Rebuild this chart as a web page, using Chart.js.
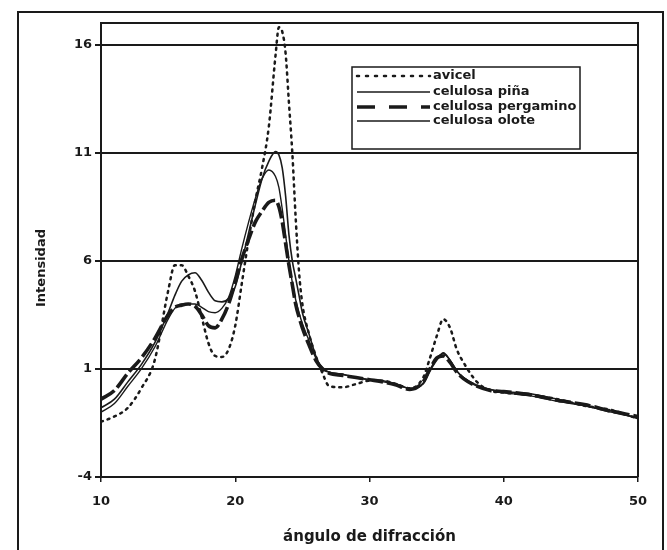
<!DOCTYPE html>
<html>
<head>
<meta charset="utf-8">
<script src="https://cdn.jsdelivr.net/npm/chart.js@4"></script>
<style>
html,body{margin:0;padding:0;background:#fff}
#wrap{width:667px;height:550px}
</style>
</head>
<body>
<div id="wrap"><canvas id="c" width="667" height="550"></canvas></div>
<script>
// ---- data ----
const angles    = [10,11,12,13,14,15,15.5,16,16.5,17,17.5,18,18.5,19,19.5,20,20.5,21,21.5,22,22.5,23,23.25,23.5,23.75,24,24.25,24.5,24.75,25,25.5,26,26.5,27,28,29,30,31,32,33,34,34.5,35,35.5,36,36.5,37,38,39,40,42,44,46,48,50];
const avicel    = [-1.45,-1.2,-0.8,0.1,1.4,4.6,5.8,5.8,5.3,4.6,3.4,2.2,1.6,1.55,1.9,3.0,5.0,7.0,8.8,10.3,12.2,15.5,16.8,16.6,15.6,13.3,11.0,8.0,5.5,4.0,2.6,1.6,0.8,0.2,0.15,0.3,0.45,0.45,0.3,0.1,0.6,1.5,2.5,3.3,2.9,1.9,1.3,0.4,0.0,-0.1,-0.2,-0.4,-0.7,-0.9,-1.3];
const pina      = [-0.8,-0.4,0.4,1.2,2.2,3.6,4.4,5.05,5.35,5.45,5.1,4.55,4.15,4.1,4.25,4.8,6.0,7.3,8.6,9.8,10.6,11.05,10.9,10.3,9.0,7.2,6.0,5.2,4.4,3.6,2.6,1.6,1.0,0.85,0.75,0.6,0.5,0.45,0.3,0.1,0.3,0.9,1.4,1.75,1.4,0.9,0.6,0.25,0.05,-0.05,-0.15,-0.4,-0.7,-0.95,-1.3];
const pergamino = [-0.4,0.0,0.8,1.5,2.4,3.5,3.85,3.95,4.0,3.9,3.5,3.0,2.9,3.3,4.0,5.0,6.1,7.0,7.8,8.3,8.7,8.8,8.5,7.8,6.8,5.8,4.9,4.0,3.4,2.9,2.1,1.4,1.0,0.8,0.7,0.6,0.5,0.4,0.25,0.05,0.4,1.0,1.5,1.6,1.3,0.85,0.55,0.2,0.0,-0.05,-0.2,-0.45,-0.65,-0.95,-1.2];
const olote     = [-1.0,-0.6,0.2,1.0,2.0,3.3,3.8,4.0,4.0,4.0,3.85,3.65,3.6,3.8,4.3,5.3,6.6,7.8,8.9,9.8,10.2,9.9,9.4,8.4,7.2,6.0,5.0,4.2,3.6,3.1,2.3,1.5,1.05,0.85,0.75,0.6,0.5,0.4,0.3,0.1,0.35,0.95,1.5,1.7,1.4,0.9,0.6,0.2,0.05,-0.1,-0.25,-0.5,-0.7,-1.0,-1.25];
const seriesNames = ['avicel','celulosa piña','celulosa pergamino','celulosa olote'];
const yTicks = [-4,1,6,11,16];
const xTicks = [10,20,30,40,50];
const xTitle = 'ángulo de difracción';
const yTitle = 'Intensidad';

const FONT = '"DejaVu Sans", "Liberation Sans", Arial, sans-serif';
const INK = '#1a1a1a';
const pts = arr => angles.map((a,i)=>({x:a,y:arr[i]}));

const styles = [
  {borderWidth:2.5, borderDash:[2,5], borderCapStyle:'round'},
  {borderWidth:1.6, borderDash:[]},
  {borderWidth:3.6, borderDash:[16,4]},
  {borderWidth:1.4, borderDash:[]}
];
const seriesData = [avicel,pina,pergamino,olote];

const datasets = seriesData.map((arr,i)=>Object.assign({
  label: seriesNames[i],
  data: pts(arr),
  borderColor: INK,
  backgroundColor: INK,
  pointRadius: 0,
  fill: false,
  cubicInterpolationMode: 'monotone'
}, styles[i]));

const framePlugin = {
  id:'frame',
  beforeDraw(chart){
    const c = chart.ctx;
    c.save(); c.fillStyle='#fff'; c.fillRect(0,0,chart.width,chart.height); c.restore();
  },
  afterDraw(chart){
    const c = chart.ctx, a = chart.chartArea;
    c.save();
    c.strokeStyle = INK; c.lineWidth = 2;
    c.beginPath();
    c.moveTo(a.left, a.top); c.lineTo(a.right, a.top); c.lineTo(a.right, a.bottom);
    c.stroke();
    c.strokeRect(18, 12, 645, 545);
    c.translate(42, 268);
    c.rotate(-Math.PI/2);
    c.fillStyle = INK;
    c.font = 'bold 13px ' + FONT;
    c.textAlign = 'center';
    c.textBaseline = 'middle';
    c.fillText(yTitle, 0, 0);
    c.restore();
  }
};

const legendPlugin = {
  id:'boxLegend',
  afterDatasetsDraw(chart){
    const c = chart.ctx;
    const bx = 352, by = 67, bw = 228, bh = 82;
    c.save();
    c.fillStyle = '#fff';
    c.fillRect(bx, by, bw, bh);
    c.strokeStyle = INK; c.lineWidth = 1.5;
    c.strokeRect(bx, by, bw, bh);
    c.beginPath(); c.rect(bx, by, bw, bh); c.clip();
    const rows = [76, 92, 107, 121];
    chart.data.datasets.forEach((ds,i)=>{
      const y = rows[i];
      c.strokeStyle = INK;
      c.lineWidth = ds.borderWidth;
      c.lineCap = ds.borderCapStyle || 'butt';
      c.setLineDash(i===2 ? [18,14] : (i===0 ? [2,7] : ds.borderDash));
      c.beginPath(); c.moveTo(357, y); c.lineTo(430, y); c.stroke();
      c.setLineDash([]);
      c.fillStyle = INK;
      c.font = 'bold 13px ' + FONT;
      c.textBaseline = 'middle';
      c.textAlign = 'left';
      c.fillText(ds.label, 433, y);
    });
    c.restore();
  }
};

new Chart(document.getElementById('c'), {
  type:'line',
  data:{datasets},
  options:{
    responsive:false,
    devicePixelRatio:1,
    animation:false,
    layout:{padding:{left:28,right:29,top:23,bottom:0}},
    plugins:{legend:{display:false}, tooltip:{enabled:false}},
    scales:{
      x:{
        type:'linear', min:10, max:50,
        afterBuildTicks(s){ s.ticks = xTicks.map(v=>({value:v})); },
        afterFit(s){ s.height = 73; },
        grid:{display:true, drawOnChartArea:false, drawTicks:true, tickLength:5, color:INK, lineWidth:1.5},
        border:{display:true, color:INK, width:2},
        ticks:{color:INK, font:{family:FONT, size:13, weight:'bold'}, padding:12, maxRotation:0},
        title:{display:true, text:xTitle, color:INK, font:{family:FONT, size:15, weight:'bold'}, padding:{top:4,bottom:4}}
      },
      y:{
        type:'linear', min:-4, max:17,
        afterBuildTicks(s){ s.ticks = yTicks.map(v=>({value:v})); },
        afterFit(s){ s.width = 73; },
        grid:{
          drawTicks:true, tickLength:6, tickColor:INK, lineWidth:2,
          color: ctx => (ctx.tick && ctx.tick.value === -4) ? 'rgba(0,0,0,0)' : INK
        },
        border:{display:true, color:INK, width:2},
        ticks:{color:INK, font:{family:FONT, size:13, weight:'bold'}, padding:3},
        title:{display:false}
      }
    }
  },
  plugins:[framePlugin, legendPlugin]
});
</script>
</body>
</html>
